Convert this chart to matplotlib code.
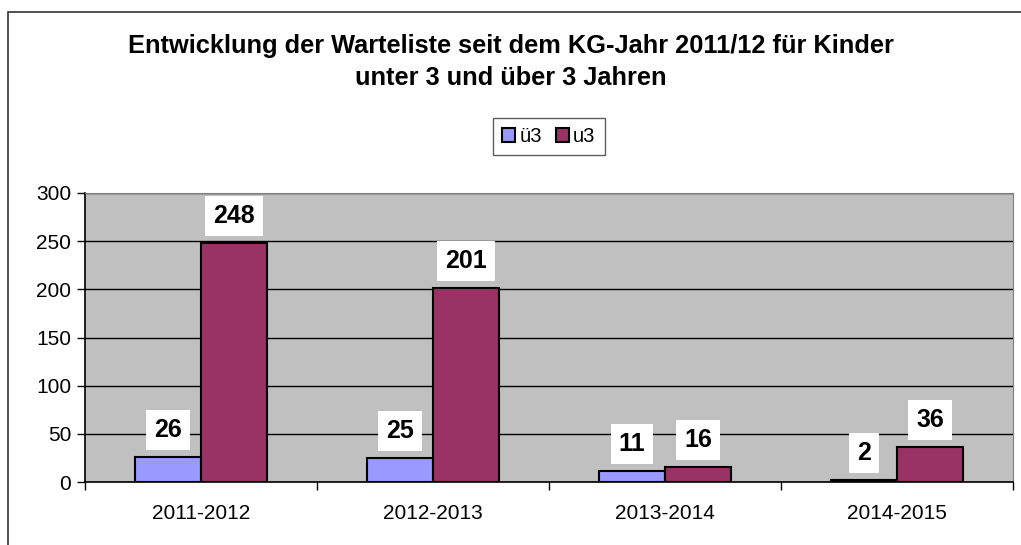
import numpy as np
import matplotlib.pyplot as plt
from matplotlib.patches import Rectangle

plt.rcParams['font.family'] = ['Liberation Sans', 'DejaVu Sans']

jahre = ['2011-2012', '2012-2013', '2013-2014', '2014-2015']
ue3 = [26, 25, 11, 2]
u3 = [248, 201, 16, 36]

W, H = 1021, 545
fig = plt.figure(figsize=(W / 100, H / 100), dpi=100)

# Excel-artiger Diagrammrahmen (rechts/unten abgeschnitten)
fig.patches.append(Rectangle((8 / W, -0.1), 1.2, 1 - 12 / H + 0.1, transform=fig.transFigure,
                             fill=False, edgecolor='#333333', linewidth=1.2))

ax = fig.add_axes([85 / W, 1 - 482 / H, (1013 - 85) / W, (482 - 193) / H])
ax.set_facecolor('#C0C0C0')

x = np.arange(len(jahre))
bw = 1 / 3.5
b1 = ax.bar(x - bw / 2, ue3, bw, color='#9999FF', edgecolor='black', linewidth=1.5, label='ü3')
b2 = ax.bar(x + bw / 2, u3, bw, color='#993366', edgecolor='black', linewidth=1.5, label='u3')

for bars in (b1, b2):
    for b in bars:
        ax.annotate(str(int(b.get_height())), (b.get_x() + b.get_width() / 2, b.get_height()),
                    xytext=(0, 27), textcoords='offset pixels', ha='center', va='center',
                    fontsize=18, fontweight='bold',
                    bbox=dict(boxstyle='square,pad=0.32', facecolor='white', edgecolor='none'))

ax.set_xlim(-0.5, len(jahre) - 0.5)
ax.set_ylim(0, 300)
ax.set_yticks(range(0, 301, 50))
ax.yaxis.grid(True, color='black', linewidth=1)
ax.set_axisbelow(True)
ax.set_xticks(x)
ax.set_xticklabels(jahre)
ax.set_xticks(np.arange(-0.5, len(jahre)), minor=True)
ax.tick_params(axis='x', which='major', length=0, pad=16, labelsize=15)
ax.tick_params(axis='x', which='minor', length=6, width=1)
ax.tick_params(axis='y', length=6, width=1, labelsize=15, pad=4)

for s in ('top', 'right'):
    ax.spines[s].set_color('#808080')
for s in ('left', 'bottom'):
    ax.spines[s].set_color('black')
    ax.spines[s].set_linewidth(1.2)

fig.text(0.5, 1 - 62 / H, 'Entwicklung der Warteliste seit dem KG-Jahr 2011/12 für Kinder\nunter 3 und über 3 Jahren',
         ha='center', va='center', fontsize=18.3, fontweight='bold', linespacing=1.45)

leg = fig.legend(handles=[b1, b2], loc='center', bbox_to_anchor=(549 / W, 1 - 136.5 / H), ncol=2,
                 fontsize=14.5, frameon=True, fancybox=False, handlelength=0.65, handleheight=0.65,
                 handletextpad=0.2, columnspacing=0.7, borderpad=0.45, borderaxespad=0)
leg.get_frame().set_edgecolor('#333333')
leg.get_frame().set_linewidth(1)

fig.savefig('out.png', dpi=100)
